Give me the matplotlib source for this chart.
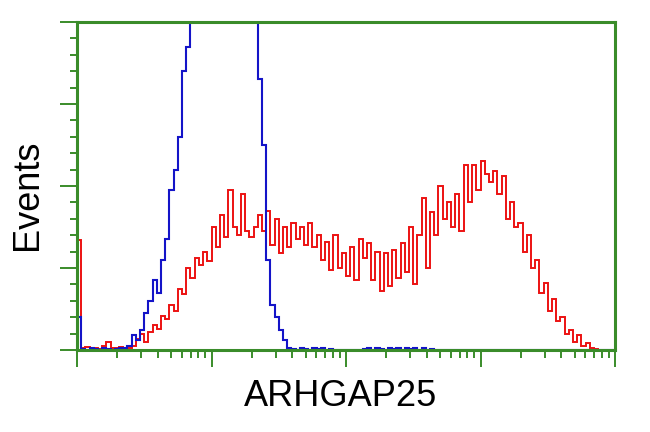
import numpy as np
import matplotlib
matplotlib.use("Agg")
import matplotlib.pyplot as plt
from matplotlib.ticker import LogLocator, MultipleLocator, NullFormatter

# histogram counts, 128 log-spaced channels over 4 decades
red_counts = [
    134, 3, 4, 2, 3, 1, 5, 10, 3, 2, 4, 2, 3, 5, 14, 20,
    10, 22, 30, 26, 42, 38, 55, 48, 75, 68, 100, 88, 112, 104, 120, 108,
    150, 125, 165, 138, 195, 150, 140, 190, 145, 138, 150, 165, 145, 170, 128, 160,
    118, 150, 125, 155, 135, 150, 128, 155, 125, 140, 110, 132, 98, 140, 100, 118,
    90, 125, 85, 135, 112, 130, 85, 120, 72, 118, 78, 122, 88, 130, 95, 150,
    80, 140, 185, 100, 168, 140, 200, 160, 180, 150, 190, 145, 225, 180, 225, 195,
    230, 215, 205, 218, 190, 212, 160, 180, 150, 155, 120, 140, 100, 110, 70, 82,
    48, 62, 35, 40, 20, 25, 10, 18, 5, 8, 2, 1, 0, 0, 0, 0,
]
blue_counts = [
    40, 1, 0, 2, 1, 0, 2, 1, 0, 1, 3, 2, 5, 18, 12, 25,
    45, 60, 85, 70, 110, 135, 195, 220, 260, 340, 370, 420, 480, 540, 600, 640,
    660, 650, 640, 620, 600, 560, 530, 500, 470, 440, 405, 330, 250, 110, 55, 40,
    25, 12, 3, 1, 0, 2, 1, 0, 3, 1, 2, 0, 1, 0, 0, 0,
    0, 0, 0, 0, 1, 2, 0, 3, 1, 0, 2, 1, 3, 0, 2, 1,
    3, 0, 2, 0, 1, 0, 0, 0, 0, 0, 0, 0, 0, 0, 0, 0,
    0, 0, 0, 0, 0, 0, 0, 0, 0, 0, 0, 0, 0, 0, 0, 0,
    0, 0, 0, 0, 0, 0, 0, 0, 0, 0, 0, 0, 0, 0, 0, 0,
]
x_label = "ARHGAP25"
y_label = "Events"

green = "#3a8c2a"
edges = np.logspace(0, 4, len(red_counts) + 1)

fig = plt.figure(figsize=(6.5, 4.32), dpi=100)
ax = fig.add_axes([77 / 650, 82 / 432, 538 / 650, 328 / 432])

ax.stairs(red_counts, edges, color="#ec1212", lw=1.4, baseline=0)
ax.stairs(blue_counts, edges, color="#1414c8", lw=1.5, baseline=0)

ax.set_xscale("log")
ax.set_xlim(1, 1e4)
ax.set_ylim(0, 400)

ax.xaxis.set_major_locator(LogLocator(base=10, numticks=10))
ax.xaxis.set_minor_locator(LogLocator(base=10, subs=np.arange(2, 10), numticks=10))
ax.yaxis.set_major_locator(MultipleLocator(100))
ax.yaxis.set_minor_locator(MultipleLocator(20))
ax.xaxis.set_major_formatter(NullFormatter())
ax.xaxis.set_minor_formatter(NullFormatter())
ax.yaxis.set_major_formatter(NullFormatter())

for s in ax.spines.values():
    s.set_color(green)
    s.set_linewidth(2.2)
    s.set_zorder(5)

ax.tick_params(which="major", direction="out", length=12, width=1.4, color=green)
ax.tick_params(axis="y", which="minor", direction="out", length=5, width=1.4, color=green)
ax.tick_params(axis="x", which="minor", direction="out", length=6, width=1.4, color=green)

font = ["Liberation Sans", "DejaVu Sans"]
fig.text(341 / 650, 1 - 396 / 432, x_label, ha="center", va="center",
         fontsize=26, family=font)
fig.text(27 / 650, 1 - 195 / 432, y_label, ha="center", va="center",
         rotation=90, fontsize=26, family=font)

fig.savefig("out.png", dpi=100, facecolor="white")
